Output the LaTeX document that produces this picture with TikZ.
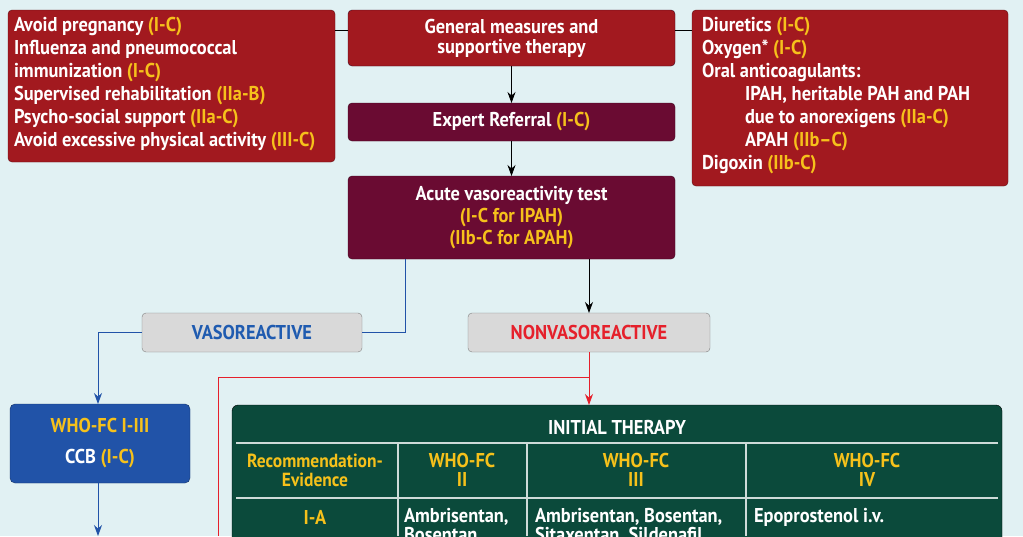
\documentclass[tikz,border=0pt]{standalone}
\usepackage{fontspec}
\setmainfont[FakeStretch=0.92]{PT Sans}
\usetikzlibrary{arrows.meta,positioning}
\definecolor{bgcol}{HTML}{E1F1F3}
\definecolor{redcol}{HTML}{A2191F}
\definecolor{maroon}{HTML}{6A0B32}
\definecolor{graycol}{HTML}{D9D9D9}
\definecolor{bluecol}{HTML}{2153A8}
\definecolor{greencol}{HTML}{0B4A3B}
\definecolor{yelcol}{HTML}{F6C11B}
\definecolor{bluetxt}{HTML}{1F5BB0}
\definecolor{redtxt}{HTML}{E5202B}
\newcommand{\ev}[1]{\textcolor{yelcol}{#1}}
\tikzset{
  every node/.style = {inner sep = 0pt, outer sep = 0pt,
    font = \fontsize{20}{23}\selectfont\bfseries},
  redbox/.style = {fill = redcol, draw = redcol!60!black, rounded corners = 4pt, text = white},
  maroonbox/.style = {fill = maroon, draw = maroon!60!black, rounded corners = 4pt, text = white, align = center},
  graybox/.style = {fill = graycol, draw = gray, rounded corners = 4pt},
  conn/.style = {line width = 0.8pt},
  arr/.style = {conn, -{Stealth[length=11pt,width=8pt]}}
}
\begin{document}
\begin{tikzpicture}[x=1pt, y=-1pt]
  \fill[bgcol] (0,0) rectangle (1023,536);
  \clip (0,0) rectangle (1023,536);
  \useasboundingbox (0,0) rectangle (1023,536);

  % top row
  \draw[redbox] (8,10) rectangle (335,162);
  \node[anchor=north west, align=left, text=white] (left) at (14,17)
    {Avoid pregnancy \ev{(I-C)}\\ Influenza and pneumococcal\\ immunization \ev{(I-C)}\\
     Supervised rehabilitation \ev{(IIa-B)}\\ Psycho-social support \ev{(IIa-C)}\\
     Avoid excessive physical activity \ev{(III-C)}};
  \node[maroonbox, fill=redcol, minimum width=327pt, minimum height=56pt, anchor=north west,
    font=\fontsize{20}{20}\selectfont\bfseries] (general) at (348,10)
    {General measures and\\ supportive therapy};
  \draw[redbox] (692,10) rectangle (1008,186);
  \node[anchor=north west, align=left, text=white] (right) at (702,17)
    {Diuretics \ev{(I-C)}\\ Oxygen* \ev{(I-C)}\\ Oral anticoagulants:\\
     \hspace{43pt}IPAH, heritable PAH and PAH\\ \hspace{43pt}due to anorexigens \ev{(IIa-C)}\\
     \hspace{43pt}APAH \ev{(IIb--C)}\\ Digoxin \ev{(IIb-C)}};
  \draw[conn] (335,30) -- (general.west |- 0,30);
  \draw[conn] (general.east |- 0,30) -- (692,30);

  % centre column
  \node[maroonbox, minimum width=327pt, minimum height=38pt, anchor=north west] (referral) at (348,103)
    {Expert Referral \ev{(I-C)}};
  \node[maroonbox, minimum width=327pt, minimum height=83pt, anchor=north west,
    font=\fontsize{20}{22}\selectfont\bfseries] (acute) at (348,176)
    {Acute vasoreactivity test\\ \ev{(I-C for IPAH)}\\ \ev{(IIb-C for APAH)}};
  \draw[arr] (general) -- (referral);
  \draw[arr] (referral) -- (acute);

  % responses
  \node[graybox, text=bluetxt, minimum width=220pt, minimum height=39pt, anchor=north west] (vaso) at (142,313)
    {VASOREACTIVE};
  \node[graybox, text=redtxt, minimum width=242pt, minimum height=39pt, anchor=north west] (nonvaso) at (468,313)
    {NONVASOREACTIVE};
  \draw[conn, bluecol] (405,259) |- (vaso.east);
  \draw[arr] (589,259) -- (nonvaso.north -| 589,0);

  % vasoreactive branch
  \node[fill=bluecol, draw=bluecol!60!black, rounded corners=5pt, text=white, align=center,
    minimum width=180pt, minimum height=79pt, anchor=north west] (ccb) at (10,404)
    {\ev{WHO-FC I-III}\\[8pt] CCB \ev{(I-C)}};
  \draw[arr, bluecol] (vaso.west) -| (ccb.north -| 98,0);
  \coordinate (ccbdown) at (98,536);
  \draw[arr, bluecol] (ccb.south -| 98,0) -- (ccbdown);

  % initial therapy table
  \draw[fill=greencol, rounded corners=6pt] (232,405) rectangle (1002,560);
  \node (therapy) at (617,427) {\color{white}INITIAL THERAPY};
  \draw[white!80!greencol, line width=1.2pt] (236,443) -- (998,443) (236,498) -- (998,498);
  \foreach \xx in {398,527,746}
    \draw[white!80!greencol, line width=1.2pt] (\xx,443) -- (\xx,536);
  \node[align=center, text=yelcol, font=\fontsize{19}{19}\selectfont\bfseries] (hd1) at (315,470) {Recommendation-\\Evidence};
  \node[align=center, text=yelcol, font=\fontsize{20}{19}\selectfont\bfseries] (hd2) at (462,470) {WHO-FC\\II};
  \node[align=center, text=yelcol, font=\fontsize{20}{19}\selectfont\bfseries] (hd3) at (636,470) {WHO-FC\\III};
  \node[align=center, text=yelcol, font=\fontsize{20}{19}\selectfont\bfseries] (hd4) at (867,470) {WHO-FC\\IV};
  \node[text=yelcol] (ia) at (315,517) {I-A};
  \node[anchor=north west, align=left, text=white, font=\fontsize{20}{19}\selectfont\bfseries] (c2) at (404,508) {Ambrisentan,\\Bosentan,};
  \node[anchor=north west, align=left, text=white, font=\fontsize{20}{19}\selectfont\bfseries] (c3) at (535,508) {Ambrisentan, Bosentan,\\Sitaxentan, Sildenafil,};
  \node[anchor=north west, align=left, text=white] (c4) at (754,508) {Epoprostenol i.v.};

  % non vasoreactive branch
  \draw[arr, redtxt] (nonvaso.south -| 589,0) -- (589,405);
  \draw[conn, redtxt] (218,536) |- (589,377);
\end{tikzpicture}
\end{document}
